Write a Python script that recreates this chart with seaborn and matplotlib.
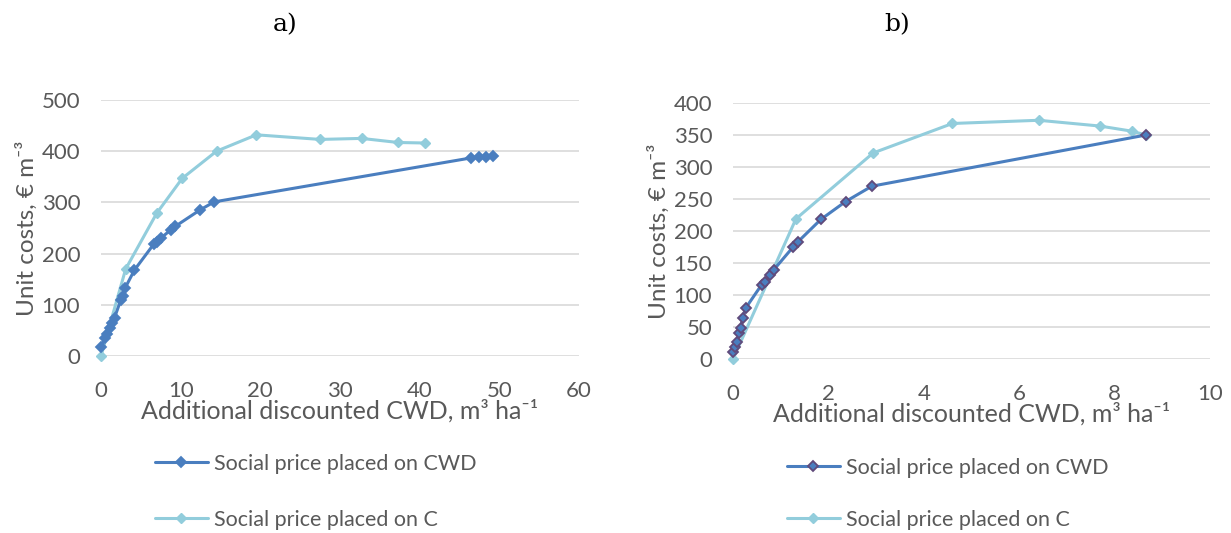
import matplotlib
matplotlib.use("Agg")
import matplotlib.pyplot as plt
import seaborn as sns
import pandas as pd

# ---- data: panel a) ----
a_cwd_x = [0, 0.5, 0.8, 1.1, 1.4, 1.7, 2.5, 2.7, 3.0, 4.2, 6.6, 7.0, 7.5, 8.8, 9.3, 12.4, 14.2, 46.5, 47.5, 48.3, 49.2]
a_cwd_y = [18, 35, 42, 55, 65, 75, 110, 118, 132, 168, 218, 223, 230, 247, 253, 285, 301, 387, 388, 389, 391]
a_c_x = [0, 3.1, 7.0, 10.2, 14.5, 19.5, 27.5, 32.7, 37.3, 40.7]
a_c_y = [0, 170, 279, 347, 400, 432, 423, 425, 417, 416]

# ---- data: panel b) ----
b_cwd_x = [0.0, 0.04, 0.08, 0.13, 0.16, 0.20, 0.27, 0.60, 0.67, 0.78, 0.85, 1.26, 1.36, 1.84, 2.36, 2.91, 8.66]
b_cwd_y = [11, 19, 27, 40, 48, 64, 80, 116, 121, 131, 139, 175, 183, 218, 246, 270, 350]
b_c_x = [0, 1.32, 2.94, 4.6, 6.41, 7.69, 8.36, 8.66]
b_c_y = [0, 219, 322, 368, 373, 364, 356, 350]

series_names = ["Social price placed on CWD", "Social price placed on C"]
a_xticks = [0, 10, 20, 30, 40, 50, 60]
a_yticks = [0, 100, 200, 300, 400, 500]
b_xticks = [0, 2, 4, 6, 8, 10]
b_yticks = [0, 50, 100, 150, 200, 250, 300, 350, 400]
titles = ["a)", "b)"]
xlabel = "Additional discounted CWD, m³ ha⁻¹"
ylabel = "Unit costs, € m⁻³"

DARK = "#4A7EBF"
LIGHT = "#92CDDC"
PURPLE = "#604A7B"
GRID = "#D9D9D9"
TXT = "#595959"

sns.set_theme(style="white")
plt.rcParams["font.family"] = ["Lato", "DejaVu Sans"]

fig = plt.figure(figsize=(12.31, 5.33), dpi=100)
axA = fig.add_axes([101/1231, 1-356/533, 478/1231, 256/533])
axB = fig.add_axes([733/1231, 1-359/533, 477/1231, 256/533])


def draw(ax, cx, cy, lx, ly, xticks, yticks, mec_cwd):
    dfc = pd.DataFrame({"x": lx, "y": ly})
    dfd = pd.DataFrame({"x": cx, "y": cy})
    sns.lineplot(data=dfc, x="x", y="y", ax=ax, sort=False, estimator=None,
                 color=LIGHT, lw=2.2, marker="D", markersize=5.5,
                 markerfacecolor=LIGHT, markeredgecolor=LIGHT, markeredgewidth=1,
                 label=series_names[1], zorder=3)
    sns.lineplot(data=dfd, x="x", y="y", ax=ax, sort=False, estimator=None,
                 color=DARK, lw=2.2, marker="D", markersize=5.5,
                 markerfacecolor=DARK, markeredgecolor=mec_cwd, markeredgewidth=1.3,
                 label=series_names[0], zorder=4)
    ax.set_xlim(xticks[0], xticks[-1])
    ax.set_ylim(yticks[0], yticks[-1])
    ax.set_xticks(xticks)
    ax.set_yticks(yticks)
    ax.tick_params(length=0, labelsize=16, labelcolor=TXT)
    ax.tick_params(axis="y", pad=15)
    ax.tick_params(axis="x", pad=18)
    for s in ax.spines.values():
        s.set_visible(False)
    ax.grid(axis="y", color=GRID, lw=1.2)
    ax.grid(axis="x", visible=False)
    ax.set_axisbelow(True)
    ax.set_xlabel(xlabel, fontsize=18, color=TXT, labelpad=-1)
    ax.set_ylabel(ylabel, fontsize=17.5, color=TXT, labelpad=3)
    for l in ax.lines:
        l.set_clip_on(False)
    h, lab = ax.get_legend_handles_labels()
    ax.get_legend().remove()
    return h[::-1], lab[::-1]


hA, lA = draw(axA, a_cwd_x, a_cwd_y, a_c_x, a_c_y, a_xticks, a_yticks, DARK)
hB, lB = draw(axB, b_cwd_x, b_cwd_y, b_c_x, b_c_y, b_xticks, b_yticks, PURPLE)

fig.text(285/1231, 1-25/533, titles[0], ha="center", va="center", fontsize=18,
         family=["DejaVu Serif"], color="black")
fig.text(897/1231, 1-25/533, titles[1], ha="center", va="center", fontsize=18,
         family=["DejaVu Serif"], color="black")

legkw = dict(frameon=False, fontsize=15.5, handlelength=2.45, handletextpad=0.3,
             borderaxespad=0, borderpad=0, labelcolor=TXT)
fig.legend(hA, lA, loc="upper left", bbox_to_anchor=(155/1231, 1-454/533),
           labelspacing=1.66, **legkw)
fig.legend(hB, lB, loc="upper left", bbox_to_anchor=(787/1231, 1-458/533),
           labelspacing=1.48, **legkw)

fig.savefig("out.png", dpi=100)
